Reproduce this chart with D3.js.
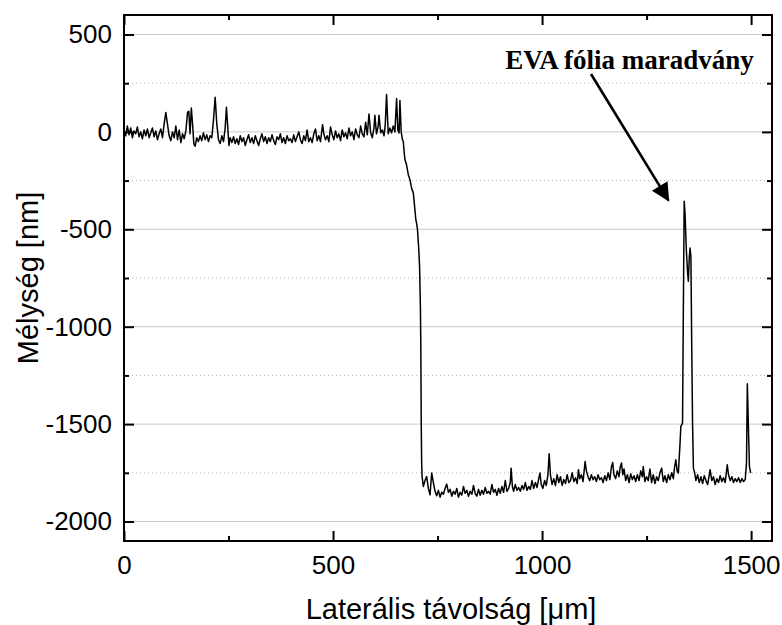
<!DOCTYPE html>
<html>
<head>
<meta charset="utf-8">
<script src="https://cdn.jsdelivr.net/npm/d3@7"></script>
<style>
  body { margin: 0; background: #fff; }
</style>
</head>
<body>
<div id="the_chart"></div>
<script>
// profile pieces: [lateral µm, depth nm]
var plateau = [
  [0,10],[4,-20],[8,30],[12,-15],[16,20],[20,-30],[24,5],[28,-10],[32,25],[36,-25],
  [40,0],[44,-35],[48,10],[52,-20],[56,15],[60,-30],[64,-5],[68,20],[72,-25],[76,5],
  [80,-40],[84,-10],[88,15],[92,-30],[96,40],[100,100],[104,40],[108,-20],[112,-45],[116,0],
  [120,-30],[124,30],[128,-40],[132,10],[136,-55],[140,-10],[144,-35],[148,5],[152,100],[155,106],
  [158,-10],[161,123],[164,40],[167,-60],[170,-74],[174,-30],[178,-50],[182,-20],[186,-45],[190,-5],
  [194,-40],[198,-15],[202,-50],[206,-20],[210,-30],[214,60],[218,178],[222,40],[226,-40],[230,-60],
  [234,-20],[238,-50],[242,20],[245,126],[248,30],[251,-70],[254,-30],[258,-55],[262,-25],[266,-60],
  [270,-35],[274,-65],[278,-20],[282,-50],[286,-30],[290,-70],[294,-40],[298,-15],[302,-55],[306,-30],
  [310,-60],[314,-20],[318,-45],[322,-70],[326,-35],[330,-10],[334,-50],[338,-25],[342,-60],[346,-30],
  [350,-50],[354,-15],[358,-45],[362,-65],[366,-25],[370,-40],[374,-10],[378,-55],[382,-30],[386,-60],
  [390,-20],[394,-45],[398,-35],[402,-55],[406,-15],[410,-50],[414,-25],[418,0],[422,-40],[426,-60],
  [430,-20],[434,-45],[438,10],[442,-50],[446,-30],[450,-55],[454,-10],[458,15],[462,-45],[466,-20],
  [470,-50],[475,37],[478,-10],[482,-40],[486,-20],[490,-50],[494,25],[498,-15],[502,-40],[506,5],
  [510,-30],[514,-10],[518,-45],[522,10],[526,-25],[530,-5],[534,-35],[538,20],[542,-20],[546,0],
  [550,-40],[554,15],[558,-15],[562,-30],[566,30],[570,-10],[574,-25],[578,50],[582,-15],[586,92],
  [590,-5],[594,-30],[598,20],[600,85],[604,-10],[608,30],[610,85],[614,-5],[618,10],[622,-20],
  [625,40],[628,192],[632,-10],[636,20],[640,-5],[644,30],[648,0],[652,171],[655,10],[658,-5],
  [660,161],[663,0],[666,-40]
];
var edge = [
  [668,-48],[670,-100],[672,-142],[676,-170],[680,-220],[684,-245],[688,-290],[692,-313],
  [695,-380],[698,-450],[700,-470],[702,-502],[705,-600],[707,-690],[709,-900],[710,-1101],
  [711,-1500],[712,-1700],[713,-1769]
];
var floor = [
  [716,-1820],[720,-1790],[724,-1769],[728,-1830],[732,-1863],[736,-1751],[740,-1800],[744,-1845],
  [748,-1868],[752,-1840],[756,-1875],[760,-1850],[764,-1860],[768,-1830],[772,-1808],[776,-1850],
  [780,-1835],[784,-1870],[788,-1845],[792,-1860],[796,-1830],[800,-1875],[804,-1850],[808,-1865],
  [812,-1820],[816,-1855],[820,-1840],[824,-1870],[828,-1845],[832,-1860],[836,-1815],[840,-1855],
  [844,-1870],[848,-1835],[852,-1865],[856,-1840],[860,-1860],[864,-1825],[868,-1855],[872,-1845],
  [876,-1860],[880,-1810],[884,-1850],[888,-1835],[892,-1865],[896,-1830],[900,-1855],[904,-1820],
  [908,-1850],[912,-1790],[916,-1845],[920,-1830],[924,-1800],[926,-1726],[929,-1820],[932,-1845],
  [936,-1810],[940,-1840],[944,-1825],[948,-1845],[952,-1815],[956,-1835],[960,-1800],[964,-1840],
  [968,-1820],[972,-1835],[976,-1790],[980,-1830],[984,-1800],[988,-1825],[992,-1780],[995,-1751],
  [998,-1810],[1002,-1830],[1006,-1790],[1010,-1815],[1014,-1760],[1017,-1652],[1020,-1760],[1024,-1810],
  [1028,-1780],[1032,-1815],[1036,-1760],[1040,-1800],[1044,-1770],[1048,-1815],[1052,-1785],[1056,-1805],
  [1060,-1760],[1064,-1800],[1068,-1790],[1072,-1750],[1076,-1795],[1080,-1775],[1084,-1805],[1087,-1734],
  [1090,-1780],[1094,-1760],[1098,-1795],[1103,-1692],[1106,-1740],[1110,-1770],[1114,-1790],[1118,-1760],
  [1122,-1785],[1126,-1770],[1130,-1795],[1134,-1760],[1138,-1785],[1142,-1775],[1146,-1800],[1150,-1765],
  [1154,-1790],[1158,-1750],[1162,-1785],[1166,-1720],[1169,-1697],[1172,-1760],[1176,-1780],[1180,-1740],
  [1184,-1770],[1187,-1720],[1190,-1700],[1193,-1760],[1196,-1730],[1200,-1790],[1204,-1760],[1208,-1800],
  [1212,-1755],[1216,-1785],[1220,-1765],[1224,-1795],[1228,-1760],[1232,-1790],[1236,-1740],[1240,-1770],
  [1242,-1718],[1246,-1795],[1250,-1770],[1254,-1790],[1258,-1731],[1262,-1800],[1266,-1760],[1270,-1805],
  [1274,-1770],[1278,-1790],[1282,-1750],[1286,-1726],[1290,-1795],[1294,-1765],[1298,-1800],[1302,-1760],
  [1306,-1785],[1310,-1750],[1314,-1780],[1317,-1720],[1320,-1683],[1323,-1740],[1326,-1751]
];
var residue = [
  [1330,-1600],[1332,-1512],[1336,-1495],[1338,-900],[1340,-356],[1342,-420],[1345,-600],[1348,-720],
  [1350,-767],[1352,-650],[1354,-596],[1356,-640],[1358,-1100],[1360,-1500],[1362,-1726]
];
var tail = [
  [1365,-1750],[1368,-1790],[1372,-1760],[1376,-1800],[1380,-1770],[1384,-1805],[1388,-1765],[1392,-1790],
  [1396,-1810],[1400,-1760],[1402,-1734],[1406,-1790],[1410,-1770],[1414,-1810],[1418,-1780],[1422,-1800],
  [1426,-1765],[1430,-1795],[1434,-1775],[1438,-1800],[1443,-1709],[1446,-1760],[1450,-1790],[1454,-1770],
  [1458,-1800],[1462,-1780],[1466,-1795],[1470,-1775],[1474,-1800],[1478,-1780],[1482,-1795],[1486,-1785],
  [1489,-1700],[1491,-1293],[1494,-1550],[1496,-1718],[1499,-1751]
];

var xMajor = [0, 500, 1000, 1500];
var xMinor = [250, 750, 1250];
var yMajor = [-2000, -1500, -1000, -500, 0, 500];
var yMinor = [-1750, -1250, -750, -250, 250];

var noteText = "EVA fólia maradvány";
var notePos = [912, 323];      // where the label starts, data units
var arrowFrom = [1117, 297];   // arrow tail, data units
var arrowTo = [1302, -350];    // arrow tip, data units

var w = 782, h = 625;
var margin = {top: 15, right: 10, bottom: 84, left: 124};

var svg = d3.select("#the_chart").append("svg")
    .attr("width", w)
    .attr("height", h);

var xscale = d3.scaleLinear()
    .domain([0, 1550])
    .range([margin.left, w - margin.right]);

var yscale = d3.scaleLinear()
    .domain([-2100, 600])
    .range([h - margin.bottom, margin.top]);

var plotBottom = h - margin.bottom, plotTop = margin.top;
var plotLeft = margin.left, plotRight = w - margin.right;

// horizontal grid: solid on major, dotted on minor
svg.selectAll("line.gmaj")
    .data(yMajor)
    .enter().append("line")
    .attr("x1", plotLeft).attr("x2", plotRight)
    .attr("y1", function(d) { return yscale(d); })
    .attr("y2", function(d) { return yscale(d); })
    .attr("stroke", "#c8c8c8")
    .attr("stroke-width", 1);

svg.selectAll("line.gmin")
    .data(yMinor)
    .enter().append("line")
    .attr("x1", plotLeft).attr("x2", plotRight)
    .attr("y1", function(d) { return yscale(d); })
    .attr("y2", function(d) { return yscale(d); })
    .attr("stroke", "#b4b4b4")
    .attr("stroke-width", 1)
    .attr("stroke-dasharray", "1,3");

// profile line
var profile = plateau.concat(edge, floor, residue, tail);
var line = d3.line()
    .x(function(d) { return xscale(d[0]); })
    .y(function(d) { return yscale(d[1]); });

svg.append("path")
    .datum(profile)
    .attr("d", line)
    .attr("fill", "none")
    .attr("stroke", "#000")
    .attr("stroke-width", 1.5)
    .attr("stroke-linejoin", "round");

// axes, ticks point inward
function drawAxis(axis, tx, ty) {
    var g = svg.append("g")
        .attr("transform", "translate(" + tx + "," + ty + ")")
        .call(axis);
    g.select(".domain").remove();
    g.selectAll("line").attr("stroke", "#000").attr("stroke-width", 2);
    g.selectAll("text")
        .attr("fill", "#000")
        .attr("font-size", "26px")
        .attr("font-family", "Liberation Sans, Arial, sans-serif");
    return g;
}

var plain = function(d) { return String(d); }; // hyphen, not minus sign

drawAxis(d3.axisBottom(xscale).tickValues(xMajor).tickSize(-10).tickPadding(15).tickFormat(plain), 0, plotBottom);
drawAxis(d3.axisBottom(xscale).tickValues(xMinor).tickSize(-5).tickFormat(""), 0, plotBottom);
drawAxis(d3.axisTop(xscale).tickValues(xMajor).tickSize(-10).tickFormat(""), 0, plotTop);
drawAxis(d3.axisTop(xscale).tickValues(xMinor).tickSize(-5).tickFormat(""), 0, plotTop);

drawAxis(d3.axisLeft(yscale).tickValues(yMajor).tickSize(-10).tickPadding(12).tickFormat(plain), plotLeft, 0);
drawAxis(d3.axisLeft(yscale).tickValues(yMinor).tickSize(-5).tickFormat(""), plotLeft, 0);
drawAxis(d3.axisRight(yscale).tickValues(yMajor).tickSize(-10).tickFormat(""), plotRight, 0);
drawAxis(d3.axisRight(yscale).tickValues(yMinor).tickSize(-5).tickFormat(""), plotRight, 0);

// frame
svg.append("rect")
    .attr("x", plotLeft).attr("y", plotTop)
    .attr("width", plotRight - plotLeft).attr("height", plotBottom - plotTop)
    .attr("fill", "none")
    .attr("stroke", "#000")
    .attr("stroke-width", 2);

// axis titles
svg.append("text")
    .attr("x", 451)
    .attr("y", 619)
    .attr("text-anchor", "middle")
    .attr("font-family", "Liberation Sans, Arial, sans-serif")
    .attr("font-size", "29px")
    .text("Laterális távolság [μm]");

svg.append("text")
    .attr("transform", "translate(38," + ((plotTop + plotBottom) / 2) + ") rotate(-90)")
    .attr("text-anchor", "middle")
    .attr("font-family", "Liberation Sans, Arial, sans-serif")
    .attr("font-size", "29px")
    .text("Mélység [nm]");

// annotation with arrow
svg.append("defs").append("marker")
    .attr("id", "head")
    .attr("viewBox", "0 0 10 10")
    .attr("refX", 9).attr("refY", 5)
    .attr("markerWidth", 8).attr("markerHeight", 7)
    .attr("markerUnits", "strokeWidth")
    .attr("orient", "auto")
    .append("path")
    .attr("d", "M0,0 L10,5 L0,10 Z")
    .attr("fill", "#000");

svg.append("line")
    .attr("x1", xscale(arrowFrom[0])).attr("y1", yscale(arrowFrom[1]))
    .attr("x2", xscale(arrowTo[0])).attr("y2", yscale(arrowTo[1]))
    .attr("stroke", "#000")
    .attr("stroke-width", 2.6)
    .attr("marker-end", "url(#head)");

svg.append("text")
    .attr("x", xscale(notePos[0]))
    .attr("y", yscale(notePos[1]))
    .attr("font-family", "Liberation Serif, Times New Roman, serif")
    .attr("font-weight", "bold")
    .attr("font-size", "27px")
    .text(noteText);
</script>
</body>
</html>
